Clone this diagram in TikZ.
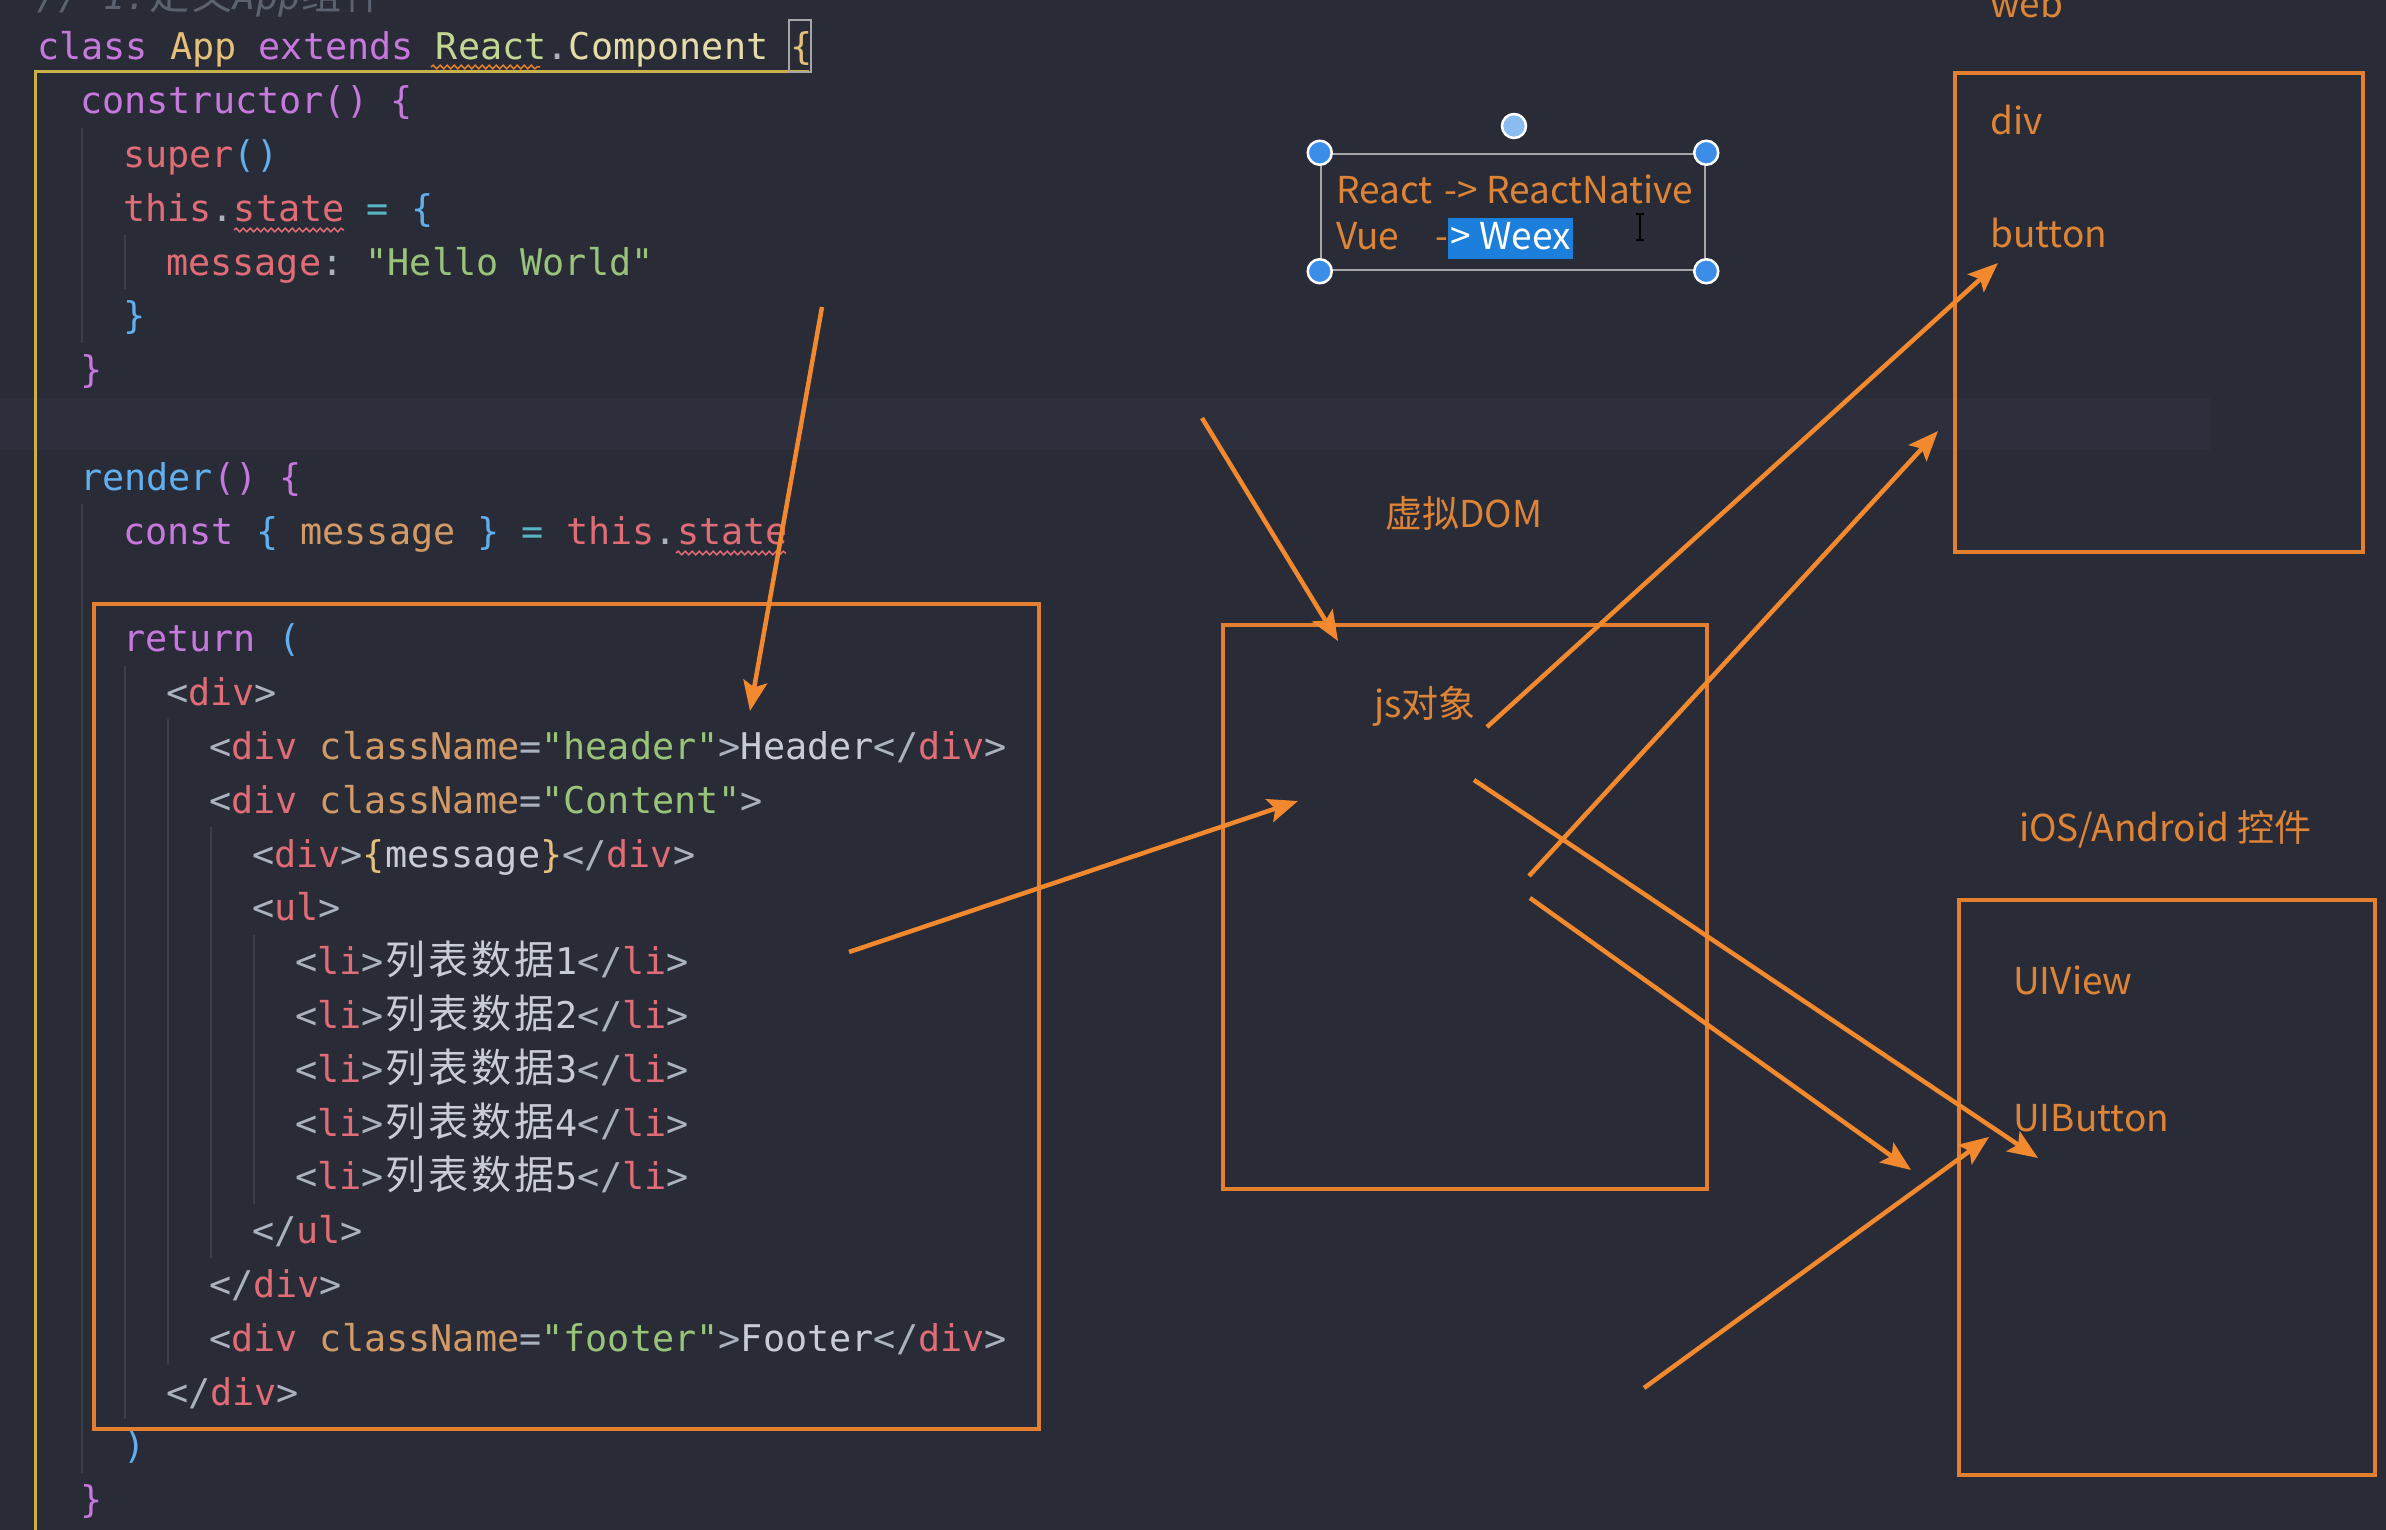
\documentclass[tikz,border=0pt]{standalone}
\usepackage{fontspec}
\setmonofont{DejaVu Sans Mono}
\newfontfamily\cjk{Noto Sans CJK SC}
\usetikzlibrary{arrows.meta,positioning,decorations.pathmorphing}

\definecolor{bg}{HTML}{292C37}
\definecolor{curline}{HTML}{2D303C}
\definecolor{iguide}{HTML}{3A3E4B}
\definecolor{bguide}{HTML}{C9B24A}
\definecolor{cpurple}{HTML}{C678DD}
\definecolor{cred}{HTML}{E06C75}
\definecolor{cblue}{HTML}{61AFEF}
\definecolor{cgreen}{HTML}{98C379}
\definecolor{creact}{HTML}{C2D792}
\definecolor{ccomp}{HTML}{E6DCA8}
\definecolor{corange}{HTML}{D19A66}
\definecolor{cyellow}{HTML}{E5C07B}
\definecolor{ccyan}{HTML}{56B6C2}
\definecolor{cgray}{HTML}{ABB2BF}
\definecolor{ctext}{HTML}{C8CCD4}
\definecolor{ccomment}{HTML}{5C6370}
\definecolor{arrorange}{HTML}{F2892E}
\definecolor{boxorange}{HTML}{E3802F}
\definecolor{lblorange}{HTML}{DE8436}
\definecolor{hblue}{HTML}{3C8DE8}
\definecolor{selblue}{HTML}{1B7FDB}

% syntax colours
\newcommand\cP[1]{\textcolor{cpurple}{#1}}
\newcommand\cR[1]{\textcolor{cred}{#1}}
\newcommand\cB[1]{\textcolor{cblue}{#1}}
\newcommand\cG[1]{\textcolor{cgreen}{#1}}
\newcommand\cO[1]{\textcolor{corange}{#1}}
\newcommand\cY[1]{\textcolor{cyellow}{#1}}
\newcommand\cC[1]{\textcolor{ccyan}{#1}}
\newcommand\cW[1]{\textcolor{cgray}{#1}}
\newcommand\cT[1]{\textcolor{ctext}{#1}}
\newcommand\zhc[1]{\makebox[43pt]{\upshape\fontsize{40}{43}\selectfont\cjk #1}}

\begin{document}
\begin{tikzpicture}[x=1pt,y=-1pt,
  code/.style={anchor=base west, inner sep=0pt, font=\ttfamily\fontsize{36.8}{43}\selectfont},
  lbl/.style={anchor=base west, inner sep=0pt, text=lblorange, font=\cjk\fontsize{37}{44}\selectfont},
  obox/.style={draw=boxorange, line width=4pt, inner sep=0pt},
  arr/.style={draw=arrorange, line width=4.5pt, -{Stealth[length=30pt,width=24pt,inset=6pt]}},
  handle/.style={circle, fill=hblue, draw=white, line width=2.5pt, minimum size=24pt, inner sep=0pt},
  selhl/.style={fill=selblue, text=white, inner xsep=2pt, inner ysep=4pt, text height=28pt, text depth=5pt},
  squig/.style={decorate, decoration={snake, amplitude=1.8pt, segment length=7pt}, line width=1.5pt}]
  \useasboundingbox (0,0) rectangle (2386,1530);
  \clip (0,0) rectangle (2386,1530);
  \fill[bg] (0,0) rectangle (2386,1530);
  \fill[curline] (0,398) rectangle (2210,450);

  % indent guides
  \foreach \c/\a/\b in {2/2/5, 4/4/4, 2/9/26, 4/12/25, 6/13/24, 8/15/22, 10/17/21}
    \draw[iguide, line width=1.5pt] ({39+21.5*\c},{20+53.8*\a}) -- ({39+21.5*\c},{74+53.8*\b});
  \draw[bguide, line width=3pt] (809,72) -- (35,72) -- (35,1530);
  \draw[gray!70, line width=1.5pt] (789,20) rectangle (811,72);

  % code
  \node[code, text=ccomment, font=\ttfamily\itshape\fontsize{36.8}{43}\selectfont] (cmt) at (37,10) {// 1.\zhc{定}\zhc{义}App\zhc{组}\zhc{件}};
  \node[code] (l0) at (37,60) {\cP{class} \cY{App} \cP{extends} \textcolor{creact}{React}\cW{.}\textcolor{ccomp}{Component} \cY{\{}};
  \node[code] (l1) at (80,113.8) {\cP{constructor() \{}};
  \node[code] (l2) at (123,167.6) {\cR{super}\cB{()}};
  \node[code] (l3) at (123,221.4) {\cR{this}\cW{.}\cR{state} \cC{=} \cB{\{}};
  \node[code] (l4) at (166,275.2) {\cR{message}\cW{:} \cG{"Hello World"}};
  \node[code] (l5) at (123,329) {\cB{\}}};
  \node[code] (l6) at (80,382.8) {\cP{\}}};
  \node[code] (l8) at (80,490.4) {\cB{render}\cP{()} \cP{\{}};
  \node[code] (l9) at (123,544.2) {\cP{const} \cB{\{} \cO{message} \cB{\}} \cC{=} \cR{this}\cW{.}\cR{state}};
  \node[code] (l11) at (123,651.8) {\cP{return} \cB{(}};
  \node[code] (l12) at (166,705.6) {\cW{<}\cR{div}\cW{>}};
  \node[code] (l13) at (209,759.4) {\cW{<}\cR{div} \cO{className}\cW{=}\cG{"header"}\cW{>}\cT{Header}\cW{</}\cR{div}\cW{>}};
  \node[code] (l14) at (209,813.2) {\cW{<}\cR{div} \cO{className}\cW{=}\cG{"Content"}\cW{>}};
  \node[code] (l15) at (252,867) {\cW{<}\cR{div}\cW{>}\cY{\{}\cT{message}\cY{\}}\cW{</}\cR{div}\cW{>}};
  \node[code] (l16) at (252,920.8) {\cW{<}\cR{ul}\cW{>}};
  \foreach \n in {1,...,5}
    \node[code] (li\n) at (295,{60+53.8*(16+\n)}) {\cW{<}\cR{li}\cW{>}\cT{\zhc{列}\zhc{表}\zhc{数}\zhc{据}\n}\cW{</}\cR{li}\cW{>}};
  \node[code] (l22) at (252,1243.6) {\cW{</}\cR{ul}\cW{>}};
  \node[code] (l23) at (209,1297.4) {\cW{</}\cR{div}\cW{>}};
  \node[code] (l24) at (209,1351.2) {\cW{<}\cR{div} \cO{className}\cW{=}\cG{"footer"}\cW{>}\cT{Footer}\cW{</}\cR{div}\cW{>}};
  \node[code] (l25) at (166,1405) {\cW{</}\cR{div}\cW{>}};
  \node[code] (l26) at (123,1458.8) {\cB{)}};
  \node[code] (l27) at (80,1512.6) {\cP{\}}};
  \draw[squig, cred] (234,230) -- (344,230);
  \draw[squig, cred] (676,553) -- (786,553);
  \draw[squig, boxorange] (431,67) -- (540,67);

  % boxes
  \node[obox, minimum width=945pt, minimum height=825pt] (retbox) at (566.5,1016.5) {};
  \node[obox, minimum width=484pt, minimum height=564pt] (vdom) at (1465,907) {};
  \node[obox, minimum width=408pt, minimum height=479pt] (webbox) at (2159,312.5) {};
  \node[obox, minimum width=416pt, minimum height=575pt] (nativebox) at (2167,1187.5) {};

  % labels
  \node[lbl] (web) at (1990,18) {web};
  \node[lbl] (div) at (1990,135) {div};
  \node[lbl] (button) at (1990,248) {button};
  \node[lbl] (vdomlbl) at (1385,527) {虚拟DOM};
  \node[lbl] (jsobj) at (1374,717) {js对象};
  \node[lbl] (native) at (2019,841) {iOS/Android 控件};
  \node[lbl] (uiview) at (2013,994) {UIView};
  \node[lbl] (uibutton) at (2013,1131) {UIButton};

  % selected text box
  \node[draw=gray!70, line width=2.5pt, minimum width=384pt, minimum height=116pt, inner sep=0pt] (tbox) at (1513,212) {};
  \node[lbl] (rn) at (1336,204) {React\hspace{4pt} -> ReactNative};
  \node[lbl] (vue) at (1336,250) {Vue\hspace{36pt}-};
  \node[lbl, selhl, anchor=base west] (sel) at (vue.base east) {> Weex};
  \draw[black, line width=2pt] (1636,214) -- (1644,214) (1640,214) -- (1640,240) (1636,240) -- (1644,240);
  \foreach \c/\n in {north west/1, north east/2, south west/3, south east/4}
    \node[handle] (h\n) at (tbox.\c) {};
  \node[handle, fill=hblue!60] (rot) at (1514,126) {};

  % arrows
  \foreach \i/\sx/\sy/\ex/\ey in {1/822/307/750/711, 2/1202/418/1338/641, 3/849/952/1298/801,
      4/1487/727/1998/263, 5/1529/876/1938/431, 6/1474/780/2038/1158,
      7/1530/898/1911/1170, 8/1644/1388/1989/1137} {
    \coordinate (s\i) at (\sx,\sy);
    \coordinate (e\i) at (\ex,\ey);
    \draw[arr] (s\i) -- (e\i);
  }
\end{tikzpicture}
\end{document}
